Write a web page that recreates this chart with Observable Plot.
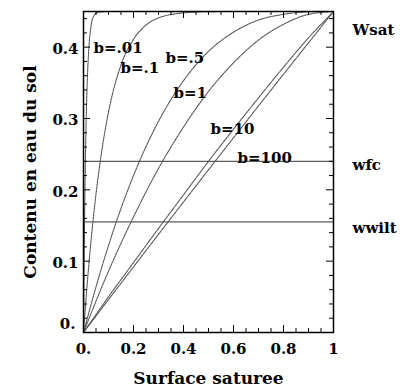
<!DOCTYPE html>
<html><head><meta charset="utf-8">
<script src="https://cdn.jsdelivr.net/npm/d3@7"></script>
<script src="https://cdn.jsdelivr.net/npm/@observablehq/plot@0.6"></script>
<style>html,body{margin:0;padding:0;background:#fff}</style>
</head><body><div id="chart"></div>
<script>
// ---- data ----
const wsat = 0.45, wfc = 0.24, wwilt = 0.155;
const levelNames = ["Wsat", "wfc", "wwilt"];
const levelLabelY = [0.4235, 0.234, 0.146];

const curveNames = ["b=.01", "b=.1", "b=.5", "b=1", "b=10", "b=100"];
const sat_b001 = [0, 0.002, 0.005, 0.01, 0.015, 0.02, 0.03, 0.04, 0.06, 0.1, 0.5, 1];
const w_b001   = [0, 0.082, 0.179, 0.287, 0.352, 0.391, 0.429, 0.443, 0.449, 0.45, 0.45, 0.45];
const sat_b01  = [0, 0.02, 0.04, 0.06, 0.08, 0.1, 0.15, 0.2, 0.25, 0.3, 0.4, 0.5, 0.6, 1];
const w_b01    = [0, 0.090, 0.163, 0.222, 0.270, 0.309, 0.375, 0.411, 0.431, 0.441, 0.448, 0.4498, 0.45, 0.45];
const sat_b05  = [0, 0.05, 0.1, 0.2, 0.3, 0.4, 0.5, 0.6, 0.7, 0.8, 0.9, 1];
const w_b05    = [0, 0.064, 0.122, 0.220, 0.296, 0.353, 0.394, 0.421, 0.438, 0.446, 0.4496, 0.45];
const sat_b1   = [0, 0.1, 0.2, 0.3, 0.4, 0.5, 0.6, 0.7, 0.8, 0.9, 1];
const w_b1     = [0, 0.086, 0.162, 0.230, 0.288, 0.338, 0.378, 0.410, 0.432, 0.446, 0.45];
const sat_b10  = [0, 0.1, 0.2, 0.3, 0.4, 0.5, 0.6, 0.7, 0.8, 0.9, 1];
const w_b10    = [0, 0.050, 0.098, 0.146, 0.193, 0.240, 0.285, 0.329, 0.372, 0.413, 0.45];
const sat_b100 = [0, 0.2, 0.4, 0.6, 0.8, 1];
const w_b100   = [0, 0.092, 0.183, 0.273, 0.362, 0.45];

const curveLabelX = [0.04, 0.148, 0.328, 0.36, 0.508, 0.616];
const curveLabelY = [0.398, 0.371, 0.384, 0.335, 0.285, 0.245];

const xMajor = [0, 0.2, 0.4, 0.6, 0.8, 1];
const xLabels = ["0.", "0.2", "0.4", "0.6", "0.8", "1"];
const xMinor = [0.05, 0.1, 0.15, 0.25, 0.3, 0.35, 0.45, 0.5, 0.55, 0.65, 0.7, 0.75, 0.85, 0.9, 0.95];
const yMajor = [0, 0.1, 0.2, 0.3, 0.4];
const yLabels = ["0.", "0.1", "0.2", "0.3", "0.4"];
const yMinor = [0.02, 0.04, 0.06, 0.08, 0.12, 0.14, 0.16, 0.18, 0.22, 0.24, 0.26, 0.28, 0.32, 0.34, 0.36, 0.38, 0.42, 0.44];

const xTitle = "Surface saturee";
const yTitle = "Contenu en eau du sol";

// ---- build tables ----
const curveSats = [sat_b001, sat_b01, sat_b05, sat_b1, sat_b10, sat_b100];
const curveWs = [w_b001, w_b01, w_b05, w_b1, w_b10, w_b100];
const rows = [];
curveNames.forEach((n, k) => curveSats[k].forEach((s, i) => rows.push({b: n, s, w: curveWs[k][i]})));
const curveLabels = curveNames.map((n, i) => ({n, x: curveLabelX[i], y: curveLabelY[i]}));
const levelLabels = levelNames.map((n, i) => ({n, y: levelLabelY[i]}));
const yTickRows = yMajor.map((v, i) => ({v, t: yLabels[i]}));

const W = 410, H = 392, mL = 83, mR = 77, mT = 11, mB = 60;
const pw = W - mL - mR, ph = H - mT - mB;
const font = {fontFamily: "DejaVu Serif", fontWeight: "bold", fontSize: 15, fill: "black"};
const titleFont = {...font, fontSize: 17};

const chart = Plot.plot({
  width: W, height: H,
  marginLeft: mL, marginRight: mR, marginTop: mT, marginBottom: mB,
  x: {domain: [0, 1], axis: null},
  y: {domain: [0, wsat], axis: null},
  style: {fontFamily: "DejaVu Serif", background: "white", overflow: "visible"},
  marks: [
    Plot.ruleY([wfc, wwilt], {x1: 0, x2: 1, stroke: "#333", strokeWidth: 1}),
    Plot.line(rows, {x: "s", y: "w", z: "b", curve: "monotone-x", stroke: "#555", strokeWidth: 1.1, strokeDasharray: "2,1"}),
    // ticks (inward on all sides)
    Plot.tickX(xMajor, {x: d => d, insetTop: ph - 7, stroke: "black"}),
    Plot.tickX(xMinor, {x: d => d, insetTop: ph - 4, stroke: "black"}),
    Plot.tickX(xMajor, {x: d => d, insetBottom: ph - 7, stroke: "black"}),
    Plot.tickX(xMinor, {x: d => d, insetBottom: ph - 4, stroke: "black"}),
    Plot.tickY(yMajor, {y: d => d, insetRight: pw - 7, stroke: "black"}),
    Plot.tickY(yMinor, {y: d => d, insetRight: pw - 4, stroke: "black"}),
    Plot.tickY(yMajor, {y: d => d, insetLeft: pw - 7, stroke: "black"}),
    Plot.tickY(yMinor, {y: d => d, insetLeft: pw - 4, stroke: "black"}),
    Plot.frame({stroke: "black", strokeWidth: 1.5}),
    // tick labels
    Plot.text(xMajor, {x: d => d, frameAnchor: "bottom", lineAnchor: "middle", dy: 17, text: (d, i) => xLabels[i], ...font}),
    Plot.text(yTickRows.filter(d => d.v > 0), {y: "v", frameAnchor: "left", dx: -5, dy: 2, textAnchor: "end", lineAnchor: "middle", text: "t", ...font}),
    Plot.text(yTickRows.filter(d => d.v === 0), {y: "v", frameAnchor: "left", dx: -8, dy: -8, textAnchor: "end", lineAnchor: "middle", text: "t", ...font}),
    // curve labels
    Plot.text(curveLabels, {x: "x", y: "y", text: "n", textAnchor: "start", lineAnchor: "middle", ...font}),
    // level labels
    Plot.text(levelLabels, {y: "y", frameAnchor: "right", dx: 19, textAnchor: "start", lineAnchor: "middle", text: "n", ...font}),
    // titles
    Plot.text([xTitle], {frameAnchor: "bottom", dy: 46, textAnchor: "middle", lineAnchor: "middle", text: d => d, ...titleFont}),
    Plot.text([yTitle], {frameAnchor: "left", dx: -53, rotate: -90, textAnchor: "middle", lineAnchor: "middle", text: d => d, ...titleFont})
  ]
});
document.getElementById("chart").appendChild(chart);
</script>
</body></html>
